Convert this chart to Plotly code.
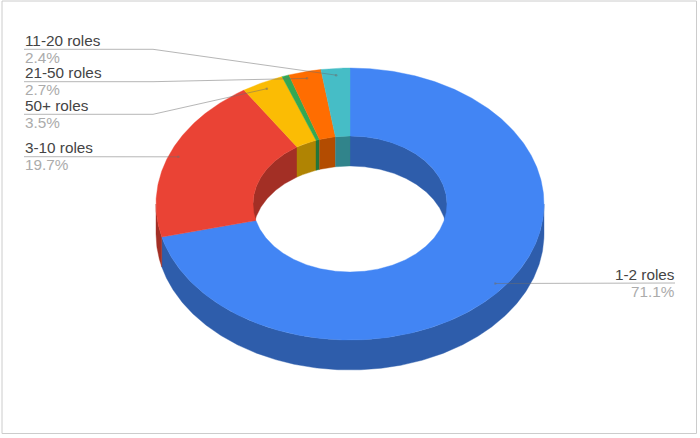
import numpy as np
import plotly.graph_objects as go

categories = ["1-2 roles", "3-10 roles", "50+ roles", "", "21-50 roles", "11-20 roles"]
values = [71.1, 19.7, 3.5, 0.6, 2.7, 2.4]
pct_labels = ["71.1%", "19.7%", "3.5%", "", "2.7%", "2.4%"]

colors = ["#4285F4", "#EA4335", "#FBBC04", "#34A853", "#FF6D01", "#46BDC6"]
shades = ["#2E5DAB", "#A32F25", "#B08403", "#24763A", "#B34C01", "#31848B"]

CX, CY, RX, RY, HOLE, DEPTH = 350, 204, 194, 136, 0.5, 30
ANCHOR_R = 0.95
# label rows: (text x, rule y, elbow x or None)
label_rows = {
    "11-20 roles": (25, 49.3, 153),
    "21-50 roles": (25, 81.7, 153),
    "50+ roles": (25, 114.3, 153),
    "3-10 roles": (25, 156.7, None),
    "1-2 roles": (675, 283, None),
}

fig = go.Figure()


def pt(theta, r, dy=0.0):
    return CX + RX * r * np.sin(theta), CY - RY * r * np.cos(theta) + dy


def arc(a, b):
    return np.linspace(a, b, max(2, int(abs(b - a) / np.pi * 180) * 2 + 2))


def poly(xs, ys, color):
    fig.add_trace(go.Scatter(x=np.r_[xs, xs[0]], y=np.r_[ys, ys[0]], mode="lines", fill="toself",
                             fillcolor=color, line=dict(color=color, width=0.4),
                             hoverinfo="skip", showlegend=False))


def overlap(a, b, lo, hi):
    a2, b2 = max(a, lo), min(b, hi)
    return (a2, b2) if b2 > a2 else None


total = sum(values)
edges = np.r_[0, np.cumsum(values)] / total * 2 * np.pi

# inner wall (far side of the hole)
for i in range(len(values)):
    for lo, hi in ((0, np.pi / 2), (3 * np.pi / 2, 2 * np.pi)):
        seg = overlap(edges[i], edges[i + 1], lo, hi)
        if seg:
            t = arc(*seg)
            x1, y1 = pt(t, HOLE)
            x2, y2 = pt(t[::-1], HOLE, DEPTH)
            poly(np.r_[x1, x2], np.r_[y1, y2], shades[i])

# outer wall (near side)
for i in range(len(values)):
    seg = overlap(edges[i], edges[i + 1], np.pi / 2, 3 * np.pi / 2)
    if seg:
        t = arc(*seg)
        x1, y1 = pt(t, 1)
        x2, y2 = pt(t[::-1], 1, DEPTH)
        poly(np.r_[x1, x2], np.r_[y1, y2], shades[i])

# top face
for i in range(len(values)):
    t = arc(edges[i], edges[i + 1])
    x1, y1 = pt(t, 1)
    x2, y2 = pt(t[::-1], HOLE)
    poly(np.r_[x1, x2], np.r_[y1, y2], colors[i])

# leaders and labels
LEADER = "rgba(110,110,110,0.5)"
for i, name in enumerate(categories):
    if name not in label_rows:
        continue
    tx, ry, elbow = label_rows[name]
    mid = (edges[i] + edges[i + 1]) / 2
    ax, ay = pt(mid, ANCHOR_R)
    xs = [tx - 1, elbow, ax] if elbow else [tx - 1 if tx < 350 else tx, ax]
    ys = [ry, ry, ay] if elbow else [ry, ay]
    fig.add_trace(go.Scatter(x=xs, y=ys, mode="lines", line=dict(color=LEADER, width=1),
                             hoverinfo="skip", showlegend=False))
    fig.add_trace(go.Scatter(x=[ax], y=[ay], mode="markers", marker=dict(color=LEADER, size=2.5),
                             hoverinfo="skip", showlegend=False))
    anchor = "left" if tx < 350 else "right"
    shift = -2 if tx < 350 else 2
    fig.add_annotation(x=tx, y=ry - 9, xshift=shift, text=name, showarrow=False, xanchor=anchor, yanchor="middle",
                       font=dict(family="Liberation Sans, Arial", size=15.3, color="#444444"))
    fig.add_annotation(x=tx, y=ry + 8, xshift=shift, text=pct_labels[i], showarrow=False, xanchor=anchor, yanchor="middle",
                       font=dict(family="Liberation Sans, Arial", size=15.3, color="#ABABAB"))

fig.add_shape(type="rect", x0=2, y0=1, x1=696.5, y1=433.5, line=dict(color="#CCCCCC", width=1), layer="below")

fig.update_layout(
    width=700, height=438, margin=dict(l=0, r=0, t=0, b=0),
    paper_bgcolor="white", plot_bgcolor="white", showlegend=False,
    xaxis=dict(range=[0, 700], visible=False, fixedrange=True),
    yaxis=dict(range=[438, 0], visible=False, fixedrange=True),
)
fig.write_html("out.html", config=dict(displayModeBar=False),
               post_script="document.body.style.margin='0';document.body.style.overflow='hidden';")
